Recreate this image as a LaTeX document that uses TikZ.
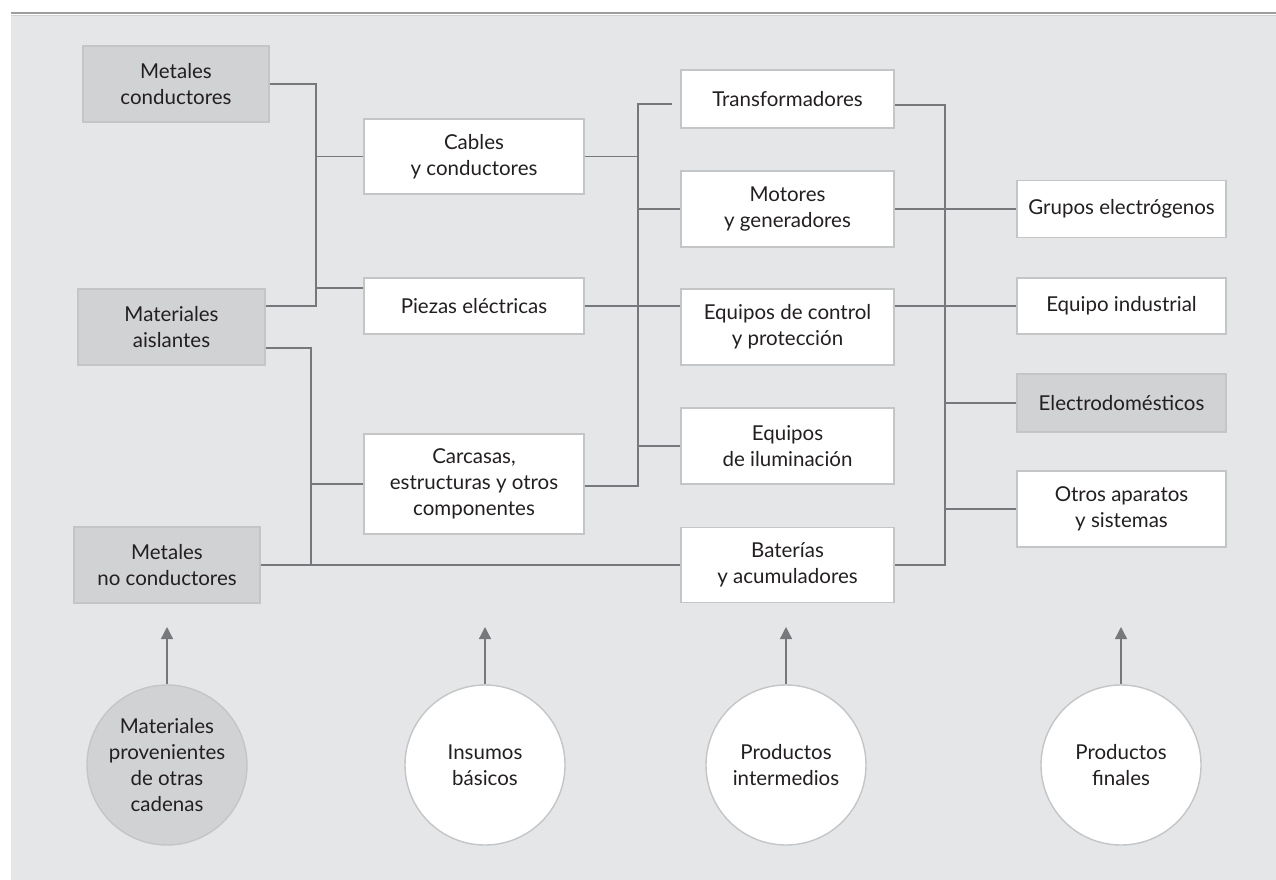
\documentclass[tikz,border=0pt]{standalone}
\usepackage{fontspec}
\setmainfont{Lato}
\usepackage{xcolor}
\usetikzlibrary{arrows.meta,positioning,calc}
\definecolor{panel}{HTML}{E5E6E7}
\definecolor{boxgray}{HTML}{D1D2D4}
\definecolor{boxline}{HTML}{C4C5C7}
\definecolor{conn}{HTML}{77787B}
\definecolor{ink}{HTML}{231F20}

\begin{document}
\begin{tikzpicture}[x = 1pt, y = -1pt,
  box/.style = {draw = boxline, line width = 1.4pt, fill = white, align = center,
    font = \fontsize{20.5}{26}\selectfont, text = ink, inner sep = 0pt},
  gbox/.style = {box, fill = boxgray},
  circ/.style = {circle, draw = boxline, line width = 1.4pt, fill = white, align = center,
    minimum size = 160pt, inner sep = 0pt, font = \fontsize{20.5}{26}\selectfont, text = ink},
  link/.style = {draw = conn, line width = 1.3pt},
  up/.style = {link, -{Triangle[length = 12pt, width = 12pt]}, fill = conn}]
\useasboundingbox (0,0) rectangle (1276,880);
% background
\fill[panel] (11,15) rectangle (1276,880);
\draw[line width = 2pt, color = black!38] (11,13) -- (1276,13);
\draw[line width = 1pt, color = black!18] (11,15.5) -- (1276,15.5);

% insumos de otras cadenas
\node[gbox, minimum width = 186pt, minimum height = 76pt] (mc) at (176,84) {Metales\\conductores};
\node[gbox, minimum width = 187pt, minimum height = 76pt] (ma) at (171.5,327) {Materiales\\aislantes};
\node[gbox, minimum width = 186pt, minimum height = 76pt] (mn) at (167,565) {Metales\\no conductores};

% insumos basicos
\node[box, minimum width = 220pt, minimum height = 75pt] (cab) at (474,156.5) {Cables\\y conductores};
\node[box, minimum width = 220pt, minimum height = 56pt] (pie) at (474,306) {Piezas eléctricas};
\node[box, minimum width = 220pt, minimum height = 100pt] (car) at (474,484) {Carcasas,\\estructuras y otros\\componentes};

% productos intermedios
\node[box, minimum width = 213pt, minimum height = 58pt] (tra) at (787.5,99) {Transformadores};
\node[box, minimum width = 213pt, minimum height = 76pt] (mot) at (787.5,209) {Motores\\y generadores};
\node[box, minimum width = 213pt, minimum height = 76pt] (eqc) at (787.5,327) {Equipos de control\\y protección};
\node[box, minimum width = 213pt, minimum height = 76pt] (ilu) at (787.5,446) {Equipos\\de iluminación};
\node[box, minimum width = 213pt, minimum height = 75pt] (bat) at (787.5,565) {Baterías\\y acumuladores};

% productos finales
\node[box, minimum width = 209pt, minimum height = 57pt] (gru) at (1121.5,209) {Grupos electrógenos};
\node[box, minimum width = 209pt, minimum height = 56pt] (ind) at (1121.5,306) {Equipo industrial};
\node[gbox, minimum width = 209pt, minimum height = 58pt] (ele) at (1121.5,403) {Electrodomésticos};
\node[box, minimum width = 209pt, minimum height = 76pt] (otr) at (1121.5,509) {Otros aparatos\\y sistemas};

% eslabones
\node[circ, fill = boxgray] (c1) at (167,765) {Materiales\\provenientes\\de otras\\cadenas};
\node[circ] (c2) at (485,765) {Insumos\\básicos};
\node[circ] (c3) at (786,765) {Productos\\intermedios};
\node[circ] (c4) at (1121,765) {Productos\\finales};

% first bus
\coordinate (b1t) at (316,84);
\coordinate (b1b) at (316,306);
\draw[link] (mc.east) -- (b1t) -- (b1b) -- (ma.east |- b1b);
\draw[link] (cab.west -| b1t) -- (cab.west);
\draw[link] (b1t |- 0,288) -- (pie.west |- 0,288);

% second bus
\coordinate (b2t) at (311,348);
\coordinate (b2b) at (311,565);
\draw[link] (ma.east |- b2t) -- (b2t) -- (b2b);
\draw[link] (car.west -| b2t) -- (car.west);
\draw[link] (mn.east) -- (bat.west);

% third bus
\coordinate (b3t) at (638,104);
\coordinate (b3b) at (638,486);
\draw[link, shorten <= 8pt] (tra.west |- b3t) -- (b3t) -- (b3b) -- (car.east |- b3b);
\draw[link] (cab.east) -- (cab.east -| b3t);
\draw[link] (mot.west -| b3t) -- (mot.west);
\draw[link] (pie.east) -- (eqc.west |- pie);
\draw[link] (ilu.west -| b3t) -- (ilu.west);

% fourth bus
\coordinate (b4t) at (945,105);
\coordinate (b4b) at (945,565);
\draw[link] (tra.east |- b4t) -- (b4t) -- (b4b) -- (bat.east);
\draw[link] (mot.east) -- (gru.west |- mot);
\draw[link] (eqc.east |- ind) -- (ind.west);
\draw[link] (ele.west -| b4t) -- (ele.west);
\draw[link] (otr.west -| b4t) -- (otr.west);

% flechas
\foreach \c in {c1,c2,c3,c4}
  \draw[up] (\c.north) -- (\c.north |- 0,627);
\end{tikzpicture}
\end{document}
